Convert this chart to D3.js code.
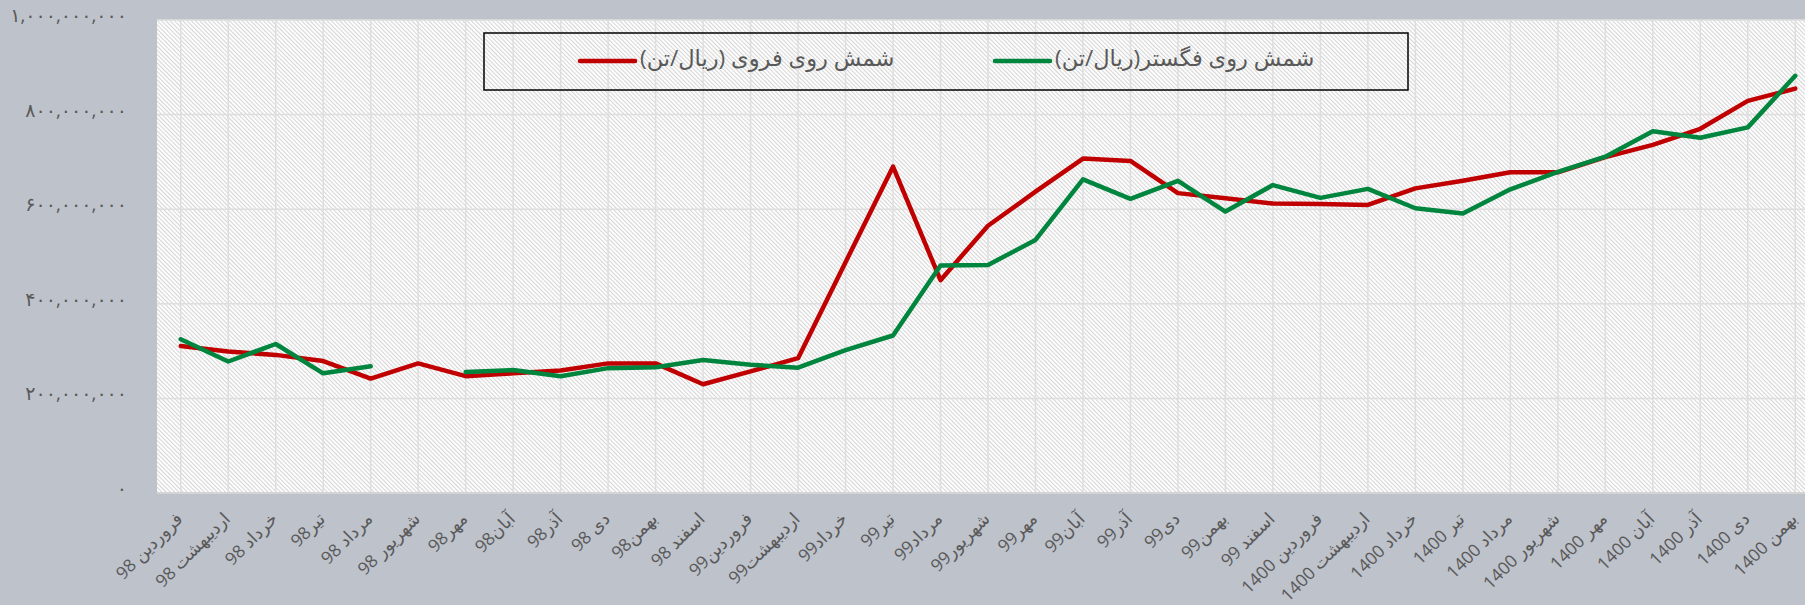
<!DOCTYPE html>
<html>

<head>
    <meta charset="utf-8">
    <style>
        body {
            margin: 0;
            background-color: #bec2cb;
            font-family: 'Open Sans', 'DejaVu Sans', sans-serif;
        }

        svg {
            display: block;
        }

        .tick-label {
            fill: #595959;
        }
    </style>
</head>

<body>
    <svg width="1805" height="605"></svg>

    <script src="https://d3js.org/d3.v7.min.js"></script>

    <script>
        let width = 1805;
        let height = 605;

        // months, from farvardin 98 to bahman 1400
        let months = [
            "فروردین 98", "اردیبهشت 98", "خرداد 98", "تیر98", "مرداد 98", "شهریور 98",
            "مهر98", "آبان98", "آذر98", "دی 98", "بهمن98", "اسفند 98",
            "فروردین99", "اردیبهشت99", "خرداد99", "تیر99", "مرداد99", "شهریور99",
            "مهر99", "آبان99", "آذر99", "دی99", "بهمن99", "اسفند 99",
            "فروردین 1400", "اردیبهشت 1400", "خرداد 1400", "تیر 1400", "مرداد 1400", "شهریور 1400",
            "مهر 1400", "آبان 1400", "آذر 1400", "دی 1400", "بهمن 1400"
        ];

        // million rial per ton
        let zincForoo = [
            311, 299, 292, 279, 242, 274, 247, 253, 259, 274, 274, 230,
            257, 285, 488, 690, 450, 565, 637, 707, 702, 634, 623, 612,
            611, 609, 644, 660, 678, 678, 710, 736, 770, 829, 855
        ];

        let zincFagostar = [
            325, 278, 315, 253, 268, null, 256, 260, 247, 264, 266, 281,
            271, 265, 302, 333, 481, 482, 535, 663, 622, 660, 595, 651,
            624, 643, 602, 591, 642, 679, 711, 765, 751, 773, 882
        ];

        let series = [
            { name: "شمش روی فروی (ریال/تن)", values: zincForoo, color: "#c00000" },
            { name: "شمش روی فگستر(ریال/تن)", values: zincFagostar, color: "#00853e" }
        ];

        let yTicks = [0, 200, 400, 600, 800, 1000];

        let plotLeft = 157, plotTop = 20, plotBottom = 493, plotRight = 1819;

        let svg = d3.select("svg");

        let x = d3.scaleBand()
            .domain(months)
            .range([plotLeft, plotRight]);

        let y = d3.scaleLinear()
            .domain([0, 1000])
            .range([plotBottom, plotTop]);

        let cx = d => x(d) + x.bandwidth() / 2;

        // persian digits for the value axis
        let faDigits = "۰۱۲۳۴۵۶۷۸۹";
        let toFa = s => s.replace(/[0-9]/g, c => faDigits[+c]);
        let fmt = v => toFa(d3.format(",")(v * 1e6));

        // hatch pattern of the plot area
        let defs = svg.append("defs");
        let pat = defs.append("pattern")
            .attr("id", "hatch")
            .attr("patternUnits", "userSpaceOnUse")
            .attr("width", 3)
            .attr("height", 3)
            .attr("patternTransform", "rotate(-45)");
        pat.append("rect")
            .attr("width", 3).attr("height", 3)
            .attr("fill", "#ffffff");
        pat.append("rect")
            .attr("width", 1.1).attr("height", 3)
            .attr("fill", "#d6d6d6");

        svg.append("rect")
            .attr("x", plotLeft)
            .attr("y", plotTop)
            .attr("width", plotRight - plotLeft)
            .attr("height", plotBottom - plotTop)
            .attr("fill", "url(#hatch)");

        // grid
        svg.append("g")
            .selectAll("line")
            .data(yTicks.slice(1))
            .join("line")
            .attr("x1", plotLeft)
            .attr("x2", plotRight)
            .attr("y1", d => y(d))
            .attr("y2", d => y(d))
            .attr("stroke", "#dedede")
            .attr("stroke-width", 1.5);

        svg.append("g")
            .selectAll("line")
            .data(months)
            .join("line")
            .attr("x1", d => cx(d))
            .attr("x2", d => cx(d))
            .attr("y1", plotTop)
            .attr("y2", plotBottom)
            .attr("stroke", "#dedede")
            .attr("stroke-width", 1.5);

        svg.append("line")
            .attr("x1", plotLeft)
            .attr("x2", plotRight)
            .attr("y1", plotBottom)
            .attr("y2", plotBottom)
            .attr("stroke", "#d4d4d4")
            .attr("stroke-width", 2);

        // y labels
        svg.append("g")
            .selectAll("text")
            .data(yTicks)
            .join("text")
            .attr("class", "tick-label")
            .attr("x", 127)
            .attr("y", d => y(d) - 5)
            .attr("text-anchor", "end")
            .attr("dominant-baseline", "central")
            .style("font-size", "19px")
            .text(d => fmt(d));

        // x labels
        svg.append("g")
            .selectAll("text")
            .data(months)
            .join("text")
            .attr("class", "tick-label")
            .attr("transform", d => `translate(${cx(d) - 2},${plotBottom + 22}) rotate(-45)`)
            .attr("text-anchor", "end")
            .attr("dominant-baseline", "central")
            .style("font-size", "17.5px")
            .text(d => d);

        // lines
        let line = d3.line()
            .defined(d => d.v != null)
            .x(d => cx(d.m))
            .y(d => y(d.v));

        svg.append("g")
            .selectAll("path")
            .data(series)
            .join("path")
            .attr("d", s => line(s.values.map((v, i) => ({ m: months[i], v: v }))))
            .attr("fill", "none")
            .attr("stroke", s => s.color)
            .attr("stroke-width", 4.5)
            .attr("stroke-linejoin", "round")
            .attr("stroke-linecap", "round");

        // legend
        let legend = svg.append("g");
        legend.append("rect")
            .attr("x", 484)
            .attr("y", 33)
            .attr("width", 924)
            .attr("height", 57)
            .attr("fill", "none")
            .attr("stroke", "#000")
            .attr("stroke-width", 1.5);

        let legendX = [580, 995];
        series.forEach((s, i) => {
            legend.append("line")
                .attr("x1", legendX[i])
                .attr("x2", legendX[i] + 55)
                .attr("y1", 61)
                .attr("y2", 61)
                .attr("stroke", s.color)
                .attr("stroke-width", 4.5)
                .attr("stroke-linecap", "round");
            legend.append("text")
                .attr("x", legendX[i] + 60)
                .attr("y", 57)
                .attr("dominant-baseline", "central")
                .attr("fill", "#595959")
                .style("font-size", "22.5px")
                .text(s.name + "\u200F");
        });
    </script>
</body>

</html>
